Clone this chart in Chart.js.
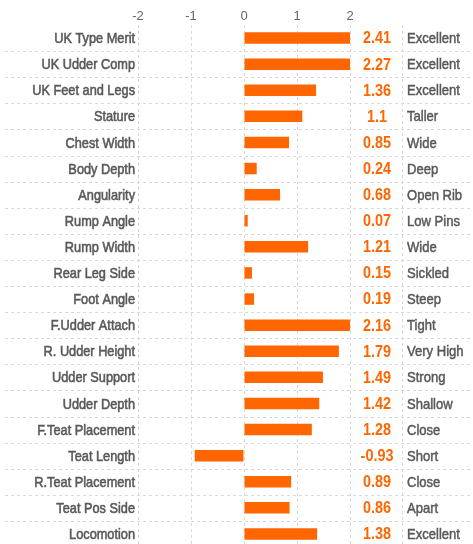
<!DOCTYPE html>
<html>
<head>
<meta charset="utf-8">
<script src="https://cdn.jsdelivr.net/npm/chart.js@4"></script>
<style>
  html, body { margin: 0; padding: 0; background: #fff; overflow: hidden; }
</style>
</head>
<body>
<canvas id="traitChart" width="473" height="547"></canvas>
<script>
const traits = [
    "UK Type Merit", "UK Udder Comp", "UK Feet and Legs", "Stature", "Chest Width",
    "Body Depth", "Angularity", "Rump Angle", "Rump Width", "Rear Leg Side",
    "Foot Angle", "F.Udder Attach", "R. Udder Height", "Udder Support", "Udder Depth",
    "F.Teat Placement", "Teat Length", "R.Teat Placement", "Teat Pos Side", "Locomotion"
];
const scores = [2.41, 2.27, 1.36, 1.1, 0.85, 0.24, 0.68, 0.07, 1.21, 0.15,
    0.19, 2.16, 1.79, 1.49, 1.42, 1.28, -0.93, 0.89, 0.86, 1.38];
const scoreLabels = ["2.41", "2.27", "1.36", "1.1", "0.85", "0.24", "0.68", "0.07", "1.21", "0.15",
    "0.19", "2.16", "1.79", "1.49", "1.42", "1.28", "-0.93", "0.89", "0.86", "1.38"];
const descriptors = ["Excellent", "Excellent", "Excellent", "Taller", "Wide", "Deep", "Open Rib",
    "Low Pins", "Wide", "Sickled", "Steep", "Tight", "Very High", "Strong", "Shallow",
    "Close", "Short", "Close", "Apart", "Excellent"];
const axisMin = -2;
const axisMax = 2;

const FONT = "'Liberation Sans', Arial, sans-serif";
const GREY = '#595959';
const ORANGE = '#FF6600';
const GRID = '#d9d9d9';

// squeeze text sideways to get the narrow look of the original,
// optional thin outline makes it semi-bold
function narrowText(ctx, text, x, y, sx, outline) {
    ctx.save();
    ctx.translate(x, y);
    ctx.scale(sx, 1);
    ctx.fillText(text, 0, 0);
    if (outline) {
        ctx.strokeStyle = ctx.fillStyle;
        ctx.lineWidth = outline;
        ctx.strokeText(text, 0, 0);
    }
    ctx.restore();
}

// row labels, value column, descriptor column and row separators
const sidePlugin = {
    id: 'sideColumns',
    beforeDatasetsDraw(chart) {
        const ctx = chart.ctx;
        const y = chart.scales.y;
        const area = chart.chartArea;
        ctx.save();
        ctx.strokeStyle = GRID;
        ctx.lineWidth = 1;
        ctx.setLineDash([3, 3]);
        for (let i = 1; i < traits.length; i++) {
            const yy = Math.round((y.getPixelForValue(i - 1) + y.getPixelForValue(i)) / 2) + 0.5;
            ctx.beginPath();
            ctx.moveTo(5, yy);
            ctx.lineTo(chart.width, yy);
            ctx.stroke();
        }
        ctx.beginPath();
        ctx.moveTo(402.5, area.top);
        ctx.lineTo(402.5, chart.height);
        ctx.stroke();
        ctx.restore();
    },
    afterDatasetsDraw(chart) {
        const ctx = chart.ctx;
        const y = chart.scales.y;
        ctx.save();
        ctx.textBaseline = 'middle';
        traits.forEach((t, i) => {
            const yy = y.getPixelForValue(i) + 1;
            ctx.font = '15px ' + FONT;
            ctx.fillStyle = GREY;
            ctx.textAlign = 'right';
            narrowText(ctx, t, 135, yy, 0.85, 0.6);
            ctx.font = 'bold 16px ' + FONT;
            ctx.fillStyle = ORANGE;
            ctx.textAlign = 'center';
            narrowText(ctx, scoreLabels[i], 377, yy, 0.9);
            ctx.font = '15px ' + FONT;
            ctx.fillStyle = GREY;
            ctx.textAlign = 'left';
            narrowText(ctx, descriptors[i], 407, yy, 0.87, 0.5);
        });
        ctx.restore();
    }
};

new Chart(document.getElementById('traitChart'), {
    type: 'bar',
    data: {
        labels: traits,
        datasets: [{
            data: scores,
            backgroundColor: ORANGE,
            borderWidth: 0,
            barPercentage: 0.44,
            categoryPercentage: 1
        }]
    },
    options: {
        indexAxis: 'y',
        responsive: false,
        animation: false,
        layout: { padding: { left: 0, right: 123, top: 0, bottom: 0 } },
        plugins: { legend: { display: false }, tooltip: { enabled: false } },
        scales: {
            x: {
                position: 'top',
                min: axisMin,
                max: axisMax,
                ticks: { stepSize: 1, color: '#666', font: { family: FONT, size: 13 }, padding: 1 },
                grid: { color: GRID, drawTicks: false },
                border: { display: false, dash: [3, 3] },
                afterFit(scale) { scale.height = 25; }
            },
            y: {
                ticks: { display: false },
                grid: { display: false, drawTicks: false },
                border: { display: false },
                afterFit(scale) { scale.width = 138; }
            }
        }
    },
    plugins: [sidePlugin]
});
</script>
</body>
</html>
